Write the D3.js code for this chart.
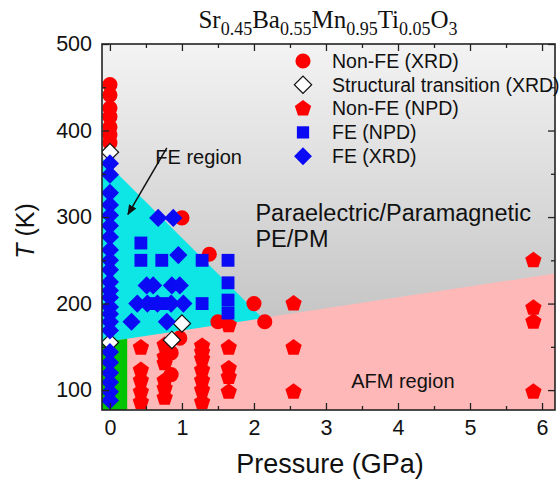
<!DOCTYPE html>
<html>
<head>
<meta charset="utf-8">
<script src="https://cdn.jsdelivr.net/npm/d3@7"></script>
<style>
  body { margin: 0; background: #fff; }
  text { font-family: Arial, "Liberation Sans", sans-serif; fill: #111; }
</style>
</head>
<body>
<svg id="chart" width="559" height="485"></svg>
<script>
var svgWidth = 559;
var svgHeight = 485;
var margin = { top: 44, right: 4, bottom: 75, left: 102 };
var width = svgWidth - margin.left - margin.right;
var height = svgHeight - margin.top - margin.bottom;

// axis ticks
var xTicks = [0, 1, 2, 3, 4, 5, 6];
var xMinor = [0.5, 1.5, 2.5, 3.5, 4.5, 5.5];
var yTicks = [100, 200, 300, 400, 500];
var yMinor = [150, 250, 350, 450];

// phase boundaries (P in GPa, T in K)
var feBoundary = [[-0.11, 368], [2.12, 183]];
var afmBoundary = [[-0.11, 155], [6.2, 235]];
var greenEdge = 0.24;

// data series
var nonFeXrd = [[0, 453], [0, 441], [0, 426], [0, 416], [0, 404], [0, 395], [0, 386],
  [1.0, 299], [1.38, 257], [2.0, 200], [1.5, 179], [2.15, 179], [0.97, 160],
  [0.85, 143], [0.85, 118]];
var structXrd = [[0, 375], [0, 155], [1.0, 177], [0.86, 158]];
var nonFeNpd = [[0.43, 149], [0.43, 123], [0.43, 111], [0.43, 98], [0.43, 86],
  [0.76, 152], [0.76, 138], [0.76, 131], [0.76, 111], [0.76, 102], [0.76, 91],
  [1.28, 151], [1.28, 144], [1.28, 136], [1.28, 123], [1.28, 111], [1.28, 100], [1.28, 86],
  [1.65, 175], [1.65, 149], [1.65, 125], [1.65, 115], [1.65, 98],
  [2.55, 200], [2.55, 149], [2.55, 98],
  [5.88, 250], [5.88, 195], [5.88, 179], [5.88, 98]];
var feNpd = [[0.43, 270], [0.43, 250], [0.72, 250], [1.28, 250], [1.64, 250],
  [1.64, 224], [1.28, 200], [1.64, 204], [1.64, 189], [0.6, 200], [0.72, 200]];
var feXrd = [[0, 362], [0, 349], [0, 328], [0, 314], [0, 302], [0, 290], [0, 277],
  [0, 262], [0, 250], [0, 239], [0, 225], [0, 215], [0, 207], [0, 196], [0, 188],
  [0, 179], [0, 169], [0, 144], [0, 132], [0, 120], [0, 109], [0, 98], [0, 88],
  [0.67, 299], [0.88, 299], [0.95, 256],
  [0.51, 221], [0.6, 221], [0.86, 221], [0.97, 221],
  [0.38, 200], [0.52, 200], [0.66, 200], [0.85, 200], [1.02, 200],
  [0.3, 179], [0.79, 179]];

var legendLabels = ["Non-FE (XRD)", "Structural transition (XRD)", "Non-FE (NPD)", "FE (NPD)", "FE (XRD)"];

var red = "#ff0000", blue = "#0a0af5";

var symbolPentagon = {
  draw: function(context, size) {
    var r = Math.sqrt(size / 2.378);
    for (var i = 0; i < 5; i++) {
      var a = -Math.PI / 2 + i * 2 * Math.PI / 5;
      if (i === 0) context.moveTo(r * Math.cos(a), r * Math.sin(a));
      else context.lineTo(r * Math.cos(a), r * Math.sin(a));
    }
    context.closePath();
  }
};

var svg = d3.select("#chart");
var defs = svg.append("defs");

var grad = defs.append("linearGradient").attr("id", "bg")
  .attr("x1", 0).attr("y1", 0).attr("x2", 0).attr("y2", 1);
grad.append("stop").attr("offset", "0%").attr("stop-color", "#f3f3f3");
grad.append("stop").attr("offset", "100%").attr("stop-color", "#b6b6b6");

defs.append("clipPath").attr("id", "plotclip")
  .append("rect").attr("width", width).attr("height", height);

defs.append("marker").attr("id", "arrow")
  .attr("viewBox", "0 0 10 10").attr("refX", 9).attr("refY", 5)
  .attr("markerWidth", 7).attr("markerHeight", 7).attr("orient", "auto")
  .append("path").attr("d", "M0,1 L10,5 L0,9 Z").attr("fill", "#111");

var chart = svg.append("g")
  .attr("transform", `translate(${margin.left}, ${margin.top})`);

var x = d3.scaleLinear().domain([-0.11, 6.18]).range([0, width]);
var y = d3.scaleLinear().domain([77, 500]).range([height, 0]);

// background regions
var regions = chart.append("g").attr("clip-path", "url(#plotclip)");
regions.append("rect").attr("width", width).attr("height", height).attr("fill", "url(#bg)");

var poly = d3.line().x(function(d) { return x(d[0]); }).y(function(d) { return y(d[1]); });
var afmAt = function(p) {
  var a = afmBoundary[0], b = afmBoundary[1];
  return a[1] + (p - a[0]) * (b[1] - a[1]) / (b[0] - a[0]);
};
var yMin = y.domain()[0];

regions.append("path")
  .attr("d", poly([afmBoundary[0], afmBoundary[1], [afmBoundary[1][0], yMin], [afmBoundary[0][0], yMin]]) + "Z")
  .attr("fill", "#ffb8b8");
regions.append("path")
  .attr("d", poly([feBoundary[0], feBoundary[1], afmBoundary[0]]) + "Z")
  .attr("fill", "#0ee6e6");
regions.append("path")
  .attr("d", poly([afmBoundary[0], [greenEdge, afmAt(greenEdge)], [greenEdge, yMin], [afmBoundary[0][0], yMin]]) + "Z")
  .attr("fill", "#00c400");

// region labels
chart.append("text").attr("x", x(0.63)).attr("y", y(361)).attr("font-size", 20).text("FE region");
chart.append("line")
  .attr("x1", x(0.79)).attr("y1", y(380))
  .attr("x2", x(0.25)).attr("y2", y(303))
  .attr("stroke", "#111").attr("stroke-width", 1.5)
  .attr("marker-end", "url(#arrow)");
chart.append("text").attr("x", x(2.02)).attr("y", y(296)).attr("font-size", 23.5).text("Paraelectric/Paramagnetic");
chart.append("text").attr("x", x(2.02)).attr("y", y(265)).attr("font-size", 23.5).text("PE/PM");
chart.append("text").attr("x", x(3.35)).attr("y", y(103)).attr("font-size", 20).text("AFM region");

// markers
var marks = chart.append("g").attr("clip-path", "url(#plotclip)");
function drawSeries(data, type, size, fill, stroke, rotate) {
  marks.append("g").selectAll("path")
    .data(data)
    .enter()
    .append("path")
      .attr("d", d3.symbol().type(type).size(size))
      .attr("transform", function(d) {
        return "translate(" + x(d[0]) + "," + y(d[1]) + ")" + (rotate ? " rotate(45)" : "");
      })
      .attr("fill", fill)
      .attr("stroke", stroke || "none")
      .attr("stroke-width", 1.2);
}
drawSeries(nonFeXrd, d3.symbolCircle, 180, red);
drawSeries(nonFeNpd, symbolPentagon, 175, red);
drawSeries(feNpd, d3.symbolSquare, 165, blue);
drawSeries(structXrd, d3.symbolSquare, 150, "#fff", "#111", true);
drawSeries(feXrd, d3.symbolSquare, 165, blue, null, true);

// axes with inward ticks
chart.append("g").attr("transform", `translate(0, ${height})`)
  .call(d3.axisBottom(x).tickValues(xTicks).tickSize(-7).tickSizeOuter(0).tickPadding(10).tickFormat(d3.format("d")))
  .call(function(g) { g.select(".domain").remove(); g.selectAll("text").attr("font-size", 21.5).attr("font-family", "Arial, Liberation Sans").attr("fill", "#111"); });
chart.append("g").attr("transform", `translate(0, ${height})`)
  .call(d3.axisBottom(x).tickValues(xMinor).tickSize(-4).tickFormat(""))
  .call(function(g) { g.select(".domain").remove(); });
chart.append("g")
  .call(d3.axisTop(x).tickValues(xTicks).tickSize(-7).tickFormat(""))
  .call(function(g) { g.select(".domain").remove(); });
chart.append("g")
  .call(d3.axisTop(x).tickValues(xMinor).tickSize(-4).tickFormat(""))
  .call(function(g) { g.select(".domain").remove(); });

chart.append("g")
  .call(d3.axisLeft(y).tickValues(yTicks).tickSize(-7).tickPadding(10).tickFormat(d3.format("d")))
  .call(function(g) { g.select(".domain").remove(); g.selectAll("text").attr("font-size", 21.5).attr("font-family", "Arial, Liberation Sans").attr("fill", "#111"); });
chart.append("g")
  .call(d3.axisLeft(y).tickValues(yMinor).tickSize(-4).tickFormat(""))
  .call(function(g) { g.select(".domain").remove(); });
chart.append("g").attr("transform", `translate(${width}, 0)`)
  .call(d3.axisRight(y).tickValues(yTicks).tickSize(-7).tickFormat(""))
  .call(function(g) { g.select(".domain").remove(); });
chart.append("g").attr("transform", `translate(${width}, 0)`)
  .call(d3.axisRight(y).tickValues(yMinor).tickSize(-4).tickFormat(""))
  .call(function(g) { g.select(".domain").remove(); });
chart.selectAll(".tick line").attr("stroke", "#222").attr("stroke-width", 1.3);

chart.append("rect").attr("width", width).attr("height", height)
  .attr("fill", "none").attr("stroke", "#222").attr("stroke-width", 1.6);

// legend
var legendTypes = [
  { type: d3.symbolCircle, size: 180, fill: red },
  { type: d3.symbolSquare, size: 150, fill: "#fff", stroke: "#111", rotate: true },
  { type: symbolPentagon, size: 175, fill: red },
  { type: d3.symbolSquare, size: 150, fill: blue },
  { type: d3.symbolSquare, size: 160, fill: blue, rotate: true }
];
var legend = svg.append("g").attr("transform", "translate(303, 61)");
legendLabels.forEach(function(label, i) {
  var t = legendTypes[i];
  legend.append("path")
    .attr("d", d3.symbol().type(t.type).size(t.size))
    .attr("transform", "translate(0," + (i * 23.8) + ")" + (t.rotate ? " rotate(45)" : ""))
    .attr("fill", t.fill)
    .attr("stroke", t.stroke || "none")
    .attr("stroke-width", 1.2);
  legend.append("text")
    .attr("x", 29).attr("y", i * 23.8)
    .attr("dy", "0.35em")
    .attr("font-size", 19.5)
    .text(label);
});

// title
var title = svg.append("text")
  .attr("x", 328).attr("y", 28)
  .attr("text-anchor", "middle")
  .style("font-family", "'Times New Roman', 'Liberation Serif', serif")
  .attr("font-size", 25);
var titleParts = [["Sr", "0.45"], ["Ba", "0.55"], ["Mn", "0.95"], ["Ti", "0.05"], ["O", "3"]];
titleParts.forEach(function(p, i) {
  title.append("tspan").attr("dy", i === 0 ? 0 : -7).text(p[0]);
  title.append("tspan").attr("dy", 7).attr("font-size", 18).text(p[1]);
});

// axis labels
svg.append("text")
  .attr("x", 330).attr("y", 473)
  .attr("text-anchor", "middle")
  .attr("font-size", 27)
  .text("Pressure (GPa)");

svg.append("text")
  .attr("transform", "translate(34, 231) rotate(-90)")
  .attr("text-anchor", "middle")
  .attr("font-size", 25)
  .html('<tspan font-style="italic">T</tspan> (K)');
</script>
</body>
</html>
